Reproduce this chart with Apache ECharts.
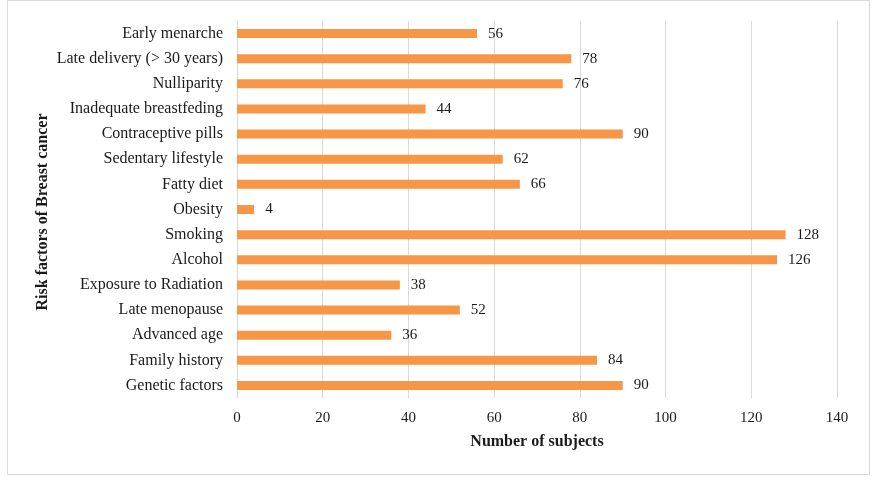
<!DOCTYPE html>
<html>
<head>
<meta charset="utf-8">
<script src="https://cdn.jsdelivr.net/npm/echarts@6/dist/echarts.min.js"></script>
<style>html,body{margin:0;padding:0;background:#fff}#c{width:877px;height:482px}</style>
</head>
<body>
<div id="c"></div>
<script>
const categories = ["Genetic factors","Family history","Advanced age","Late menopause","Exposure to Radiation","Alcohol","Smoking","Obesity","Fatty diet","Sedentary lifestyle","Contraceptive pills","Inadequate breastfeding","Nulliparity","Late delivery (> 30 years)","Early menarche"];
const values = [90,84,36,52,38,126,128,4,66,62,90,44,76,78,56];
const xTicks = [0,20,40,60,80,100,120,140];
const yTitle = 'Risk factors of Breast cancer';
const xTitle = 'Number of subjects';

const chart = echarts.init(document.getElementById('c'), null, {renderer:'canvas'});
const font = '"Liberation Serif","Times New Roman",serif';
chart.setOption({
  animation:false,
  backgroundColor:'#fff',
  graphic:[
    {type:'rect',shape:{x:7.5,y:0.5,width:862,height:474},style:{fill:'none',stroke:'#d9d9d9',lineWidth:1},silent:true},
    {type:'text',x:43,y:212,rotation:Math.PI/2,style:{text:yTitle,fontFamily:font,fontSize:16,fontWeight:'bold',fill:'#1a1a1a',align:'center',verticalAlign:'middle'},silent:true}
  ],
  grid:{left:237,right:40,top:21,bottom:84},
  xAxis:{type:'value',min:xTicks[0],max:xTicks[xTicks.length-1],interval:20,
    name:xTitle,nameLocation:'middle',nameGap:36,
    nameTextStyle:{fontFamily:font,fontSize:16,fontWeight:'bold',color:'#1a1a1a'},
    axisLine:{show:false},axisTick:{show:false},
    axisLabel:{fontFamily:font,fontSize:15,color:'#1a1a1a',margin:13},
    splitLine:{lineStyle:{color:'#d9d9d9',width:1}}},
  yAxis:{type:'category',data:categories,
    axisLine:{show:true,lineStyle:{color:'#d9d9d9'}},axisTick:{show:false},
    axisLabel:{fontFamily:font,fontSize:16,color:'#1a1a1a',margin:14}},
  series:[{type:'bar',data:values,barWidth:9,itemStyle:{color:'#F79646'},
    label:{show:true,position:'right',distance:11,fontFamily:font,fontSize:15,color:'#1a1a1a'}}]
});
</script>
</body>
</html>
